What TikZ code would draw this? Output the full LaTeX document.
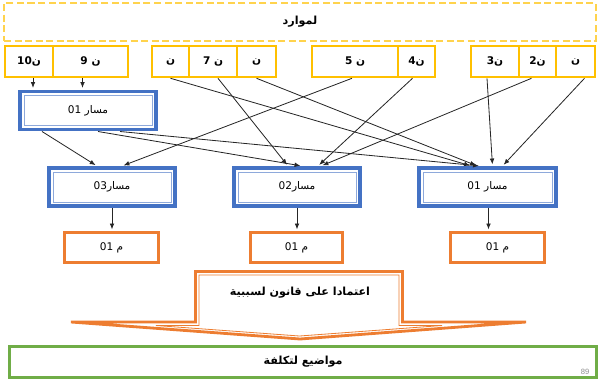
\documentclass[tikz,border=0pt]{standalone}
\usepackage{fontspec}
\usetikzlibrary{arrows.meta}
\setmainfont{Liberation Sans}
\newfontfamily\arabicfont[Script=Arabic]{DejaVu Sans}
\TeXXeTstate=1
\newcommand\artext[1]{{\arabicfont\beginR #1\endR}}
\definecolor{resyellow}{HTML}{FFC000}
\definecolor{dashyellow}{HTML}{FFD34D}
\definecolor{pathblue}{HTML}{4472C4}
\definecolor{innerblue}{HTML}{8EA9DB}
\definecolor{outorange}{HTML}{ED7D31}
\definecolor{costgreen}{HTML}{70AD47}
\tikzset{
  dx/.style={xshift=#1*0.03cm},
  wd/.style={minimum width=#1*0.03cm},
  ht/.style={minimum height=#1*0.03cm},
  topbox/.style={draw=dashyellow, line width=1.6pt, dash pattern=on 6pt off 3pt},
  resbox/.style={draw=resyellow, line width=2.2pt, ht=31, font=\fontsize{9}{10}\selectfont\bfseries},
  pathbox/.style={draw=pathblue, line width=3.4pt, fill=white, ht=38,
    path picture={\draw[innerblue, line width=0.8pt]
      ([shift={(3.4pt,-3.4pt)}]path picture bounding box.north west) rectangle
      ([shift={(-3.4pt,3.4pt)}]path picture bounding box.south east);}},
  outbox/.style={draw=outorange, line width=2.5pt, ht=30},
  costbox/.style={draw=costgreen, line width=2.5pt},
  link/.style={-{Latex[length=5pt,width=4pt]}, line width=0.7pt, black!85, shorten >=1.4pt}
}
\begin{document}
\begin{tikzpicture}[x=0.03cm, y=-0.03cm,
    every node/.style={font=\fontsize{9}{10}\selectfont, inner sep=0pt}]
  \useasboundingbox (0,0) rectangle (600,387);
  % resources
  \node (res) at (300,22) [topbox, wd=592, ht=38, font=\fontsize{9.5}{10}\selectfont\bfseries] {\artext{لموارد}};
  \node (n10) at (29,61.5) [resbox, wd=48] {\artext{ن\beginL10\endL}};
  \node (n9) at (90.5,61.5) [resbox, wd=75] {\artext{ن \beginL9\endL}};
  \node (n8) at (170.5,61.5) [resbox, wd=37] {\artext{ن}};
  \node (n7) at (213,61.5) [resbox, wd=48] {\artext{ن \beginL7\endL}};
  \node (n6) at (256.5,61.5) [resbox, wd=39] {\artext{ن}};
  \node (n5) at (355,61.5) [resbox, wd=86] {\artext{ن \beginL5\endL}};
  \node (n4) at (416.5,61.5) [resbox, wd=37] {\artext{ن\beginL4\endL}};
  \node (n3) at (495,61.5) [resbox, wd=48] {\artext{ن\beginL3\endL}};
  \node (n2) at (537.5,61.5) [resbox, wd=37] {\artext{ن\beginL2\endL}};
  \node (n1) at (575.5,61.5) [resbox, wd=39] {\artext{ن}};
  % paths
  \node (m1) at (88,110.5) [pathbox, wd=136] {\artext{مسار \beginL01\endL}};
  \node (p3) at (112,187) [pathbox, wd=126] {\artext{مسار\beginL03\endL}};
  \node (p2) at (297,187) [pathbox, wd=126] {\artext{مسار\beginL02\endL}};
  \node (p1) at (487.5,187) [pathbox, wd=137] {\artext{مسار \beginL01\endL}};
  % outputs
  \node (o3) at (111.5,247.5) [outbox, wd=94] {\artext{م \beginL01\endL}};
  \node (o2) at (296.5,247.5) [outbox, wd=92] {\artext{م \beginL01\endL}};
  \node (o1) at (497.5,247.5) [outbox, wd=94] {\artext{م \beginL01\endL}};
  % resources to paths
  \draw[link] ([dx=4]n10.south) -- ([dx=4]n10.south |- m1.north);
  \draw[link] ([dx=-8]n9.south) -- ([dx=-8]n9.south |- m1.north);
  \draw[link] (n8.south) -- ([dx=-16]p1.north);
  \draw[link] ([dx=5]n7.south) -- ([dx=-9]p2.north);
  \draw[link] (n6.south) -- ([dx=-10]p1.north);
  \draw[link] ([dx=-3]n5.south) -- ([dx=10]p3.north);
  \draw[link] ([dx=-4]n4.south) -- ([dx=21]p2.north);
  \draw[link] ([dx=-8]n3.south) -- ([dx=5]p1.north);
  \draw[link] ([dx=-6]n2.south) -- ([dx=24]p2.north);
  \draw[link] ([dx=9]n1.south) -- ([dx=15]p1.north);
  \draw[link] ([dx=-46]m1.south) -- ([dx=-15]p3.north);
  \draw[link] ([dx=10]m1.south) -- ([dx=5]p2.north);
  \draw[link] ([dx=32]m1.south) -- ([dx=-7]p1.north);
  % paths to outputs
  \draw[link] (p3.south) -- (p3.south |- o3.north);
  \draw[link] (p2.south) -- (p2.south |- o2.north);
  \draw[link] ([dx=1]p1.south) -- ([dx=1]p1.south |- o1.north);
  % causality arrow
  \draw[outorange, line width=2.4pt, fill=white]
    (195.5,271.5) -- (402.5,271.5) -- (402.5,322) -- (526,322) -- (300,339)
    -- (71,322) -- (195.5,322) -- cycle;
  \draw[outorange, line width=0.7pt]
    (199,275) -- (399,275) -- (399,325.5) -- (442,325.5) -- (299.5,336)
    -- (156,325.5) -- (199,325.5) -- cycle;
  \node (law) at (300,293) [font=\fontsize{9.5}{10}\selectfont\bfseries] {\artext{اعتمادا على قانون لسببية}};
  % cost objects
  \node (cost) at (303,362) [costbox, wd=587, ht=31, font=\fontsize{9.5}{10}\selectfont\bfseries] {\artext{مواضيع لتكلفة}};
  \node (pg) at (585,372) [font=\fontsize{6.5}{7}\selectfont, text=black!45] {89};
\end{tikzpicture}
\end{document}
